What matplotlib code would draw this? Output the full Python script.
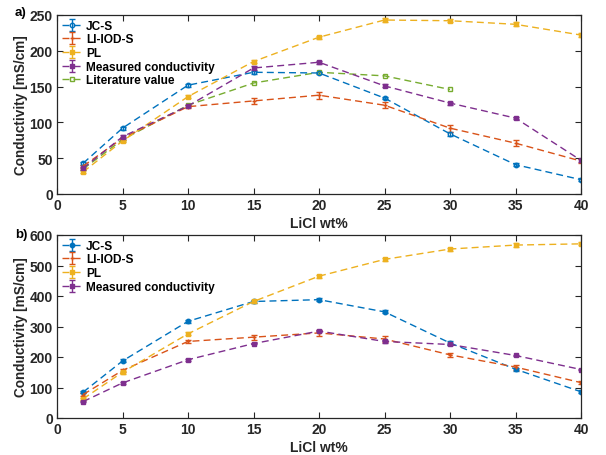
import matplotlib
matplotlib.use('Agg')
import matplotlib.pyplot as plt

plt.rcParams['font.family'] = ['Liberation Sans', 'DejaVu Sans']
plt.rcParams['font.weight'] = 'bold'

# LiCl concentration (wt%)
licl = [2, 5, 10, 15, 20, 25, 30, 35, 40]
licl_lit = [2, 5, 10, 15, 20, 25, 30]

# panel a) conductivity in mS/cm
a_jcs = [43, 92, 152, 170, 169, 134, 84, 41, 20]
a_jcs_err = [2, 2, 2, 2, 2, 2, 3, 2, 2]
a_liod = [39, 78, 122, 130, 138, 124, 92, 71, 46]
a_liod_err = [2, 2, 2, 4, 5, 4, 5, 4, 3]
a_pl = [31, 74, 136, 185, 219, 243, 242, 237, 222]
a_pl_err = [2, 2, 2, 2, 2, 3, 2, 3, 3]
a_meas = [36, 80, 123, 176, 184, 151, 127, 106, 47]
a_meas_err = [2, 2, 2, 3, 2, 2, 2, 1, 2]
a_lit = [35, 76, 124, 155, 170, 165, 146]

# panel b) conductivity in mS/cm
b_jcs = [85, 187, 317, 382, 388, 348, 246, 160, 86]
b_jcs_err = [4, 5, 5, 5, 5, 5, 6, 5, 5]
b_liod = [77, 156, 251, 265, 279, 259, 207, 167, 116]
b_liod_err = [5, 6, 5, 8, 9, 9, 7, 8, 6]
b_pl = [63, 150, 276, 382, 465, 520, 554, 567, 571]
b_pl_err = [4, 5, 5, 5, 5, 5, 5, 6, 5]
b_meas = [54, 115, 191, 244, 285, 251, 241, 205, 159]
b_meas_err = [3, 3, 3, 3, 4, 4, 3, 3, 3]

c_blue = '#0072BD'
c_orange = '#D95319'
c_yellow = '#EDB120'
c_purple = '#7E2F8E'
c_green = '#77AC30'
c_axis = '#262626'

fig = plt.figure(figsize=(6.06, 4.56), dpi=100)
W, H = 606, 456
ax1 = fig.add_axes([57 / W, 1 - 195 / H, 524 / W, 179 / H])
ax2 = fig.add_axes([57 / W, 1 - 419 / H, 524 / W, 183 / H])

ebkw = dict(linestyle='--', linewidth=1.0, capsize=2, elinewidth=1.0,
            markersize=3.2, dashes=(5, 3))


def series(ax, x, y, err, color, marker, label, mfc=None):
    ax.errorbar(x, y, yerr=err, color=color, marker=marker, label=label,
                markerfacecolor=mfc if mfc else color, markeredgewidth=1.0,
                **ebkw)


series(ax1, licl, a_jcs, a_jcs_err, c_blue, 'o', 'JC-S', mfc='none')
series(ax1, licl, a_liod, a_liod_err, c_orange, '+', 'LI-IOD-S')
series(ax1, licl, a_pl, a_pl_err, c_yellow, 's', 'PL')
series(ax1, licl, a_meas, a_meas_err, c_purple, 's', 'Measured conductivity')
ax1.plot(licl_lit, a_lit, color=c_green, linestyle='--', dashes=(5, 3),
         linewidth=1.0, marker='s', markersize=3.2, markerfacecolor='none',
         label='Literature value')

series(ax2, licl, b_jcs, b_jcs_err, c_blue, 'o', 'JC-S')
series(ax2, licl, b_liod, b_liod_err, c_orange, '+', 'LI-IOD-S')
series(ax2, licl, b_pl, b_pl_err, c_yellow, 's', 'PL')
series(ax2, licl, b_meas, b_meas_err, c_purple, 's', 'Measured conductivity')

names = ['JC-S', 'LI-IOD-S', 'PL', 'Measured conductivity', 'Literature value']

for ax, ymax, ystep, xlab_y in [(ax1, 250, 50, -0.125), (ax2, 600, 100, -0.118)]:
    ax.set_xlim(0, 40)
    ax.set_ylim(0, ymax)
    ax.set_xticks(range(0, 41, 5))
    ax.set_yticks(range(0, ymax + 1, ystep))
    ax.tick_params(direction='in', top=True, right=True, length=4,
                   width=0.8, color=c_axis, labelsize=10, pad=3)
    for lbl in ax.get_xticklabels() + ax.get_yticklabels():
        lbl.set_fontweight('bold')
        lbl.set_color(c_axis)
    for sp in ax.spines.values():
        sp.set_color(c_axis)
        sp.set_linewidth(0.9)
    ax.set_xlabel('LiCl wt%', fontsize=10, fontweight='bold', color=c_axis)
    ax.set_ylabel('Conductivity [mS/cm]', fontsize=9.8, fontweight='bold',
                  color=c_axis)
    ax.xaxis.set_label_coords(0.5, xlab_y)
    ax.yaxis.set_label_coords(-0.055, 0.5)

    # legend entries in plotting order
    handles, labels = ax.get_legend_handles_labels()
    order = sorted(range(len(labels)), key=lambda i: names.index(labels[i]))
    ax.legend([handles[i] for i in order], [labels[i] for i in order],
              loc='upper left', frameon=False, handlelength=1.7,
              handletextpad=0.35, labelspacing=0.14, borderaxespad=0.1,
              borderpad=0.3, prop={'weight': 'bold', 'size': 8.6})

fig.text(15 / W, 1 - 13 / H, 'a)', fontsize=9.5, fontweight='bold',
         va='center', ha='left')
fig.text(15 / W, 1 - 235 / H, 'b)', fontsize=9.5, fontweight='bold',
         va='center', ha='left')

fig.savefig('out.png', dpi=100)
